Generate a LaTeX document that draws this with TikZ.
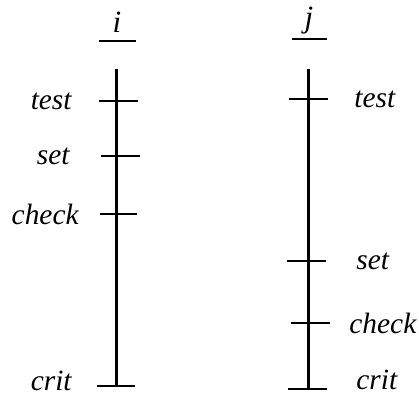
\documentclass[tikz,border=0pt]{standalone}
\usepackage{fontspec}
\setmainfont{Liberation Serif}
\newfontfamily\evtfont{Liberation Serif}
\usetikzlibrary{positioning}

\begin{document}
\begin{tikzpicture}[
  x=0.5pt, y=-0.5pt,
  proc/.style={line width=1.5pt},
  tickmark/.style={line width=1.3pt},
  evt/.style={inner sep=0pt, font=\evtfont\fontsize{14.7}{17}\selectfont\itshape},
  hdr/.style={inner sep=0pt, font=\evtfont\fontsize{15.5}{17}\selectfont\itshape}
]
\useasboundingbox (0,0) rectangle (419,394);
% process i
\node[hdr, anchor=base] (hi) at (117,33) {i};
\coordinate (itop) at (116,69);
\coordinate (ibot) at (116,386);
\draw[tickmark] (hi.base) ++(-18,8) -- ++(37,0);
\draw[proc] (itop) -- (ibot);
\coordinate (itest) at (116,101);
\coordinate (iset) at (116,156);
\coordinate (icheck) at (116,214);
\draw[tickmark] (itest) +(-17,0) -- +(22,0);
\draw[tickmark] (iset) +(-15,0) -- +(24,0);
\draw[tickmark] (icheck) +(-16,0) -- +(21,0);
\draw[tickmark] (ibot) +(-19,0) -- +(19,0);
\node[evt, anchor=east] (litest) at (72,101) {test};
\node[evt, anchor=east] (liset) at (70,156) {set};
\node[evt, anchor=east] (licheck) at (79,214) {check};
\node[evt, anchor=east] (licrit) at (72,381) {crit};
% process j
\node[hdr, anchor=base] (hj) at (309,28) {j};
\coordinate (jtop) at (308,69);
\coordinate (jbot) at (308,389);
\draw[tickmark] (hj.base) ++(-17,11) -- ++(35,0);
\draw[proc] (jtop) -- (jbot);
\coordinate (jtest) at (308,99);
\coordinate (jset) at (308,261);
\coordinate (jcheck) at (308,323);
\draw[tickmark] (jtest) +(-19,0) -- +(20,0);
\draw[tickmark] (jset) +(-21,0) -- +(18,0);
\draw[tickmark] (jcheck) +(-17,0) -- +(22,0);
\draw[tickmark] (jbot) +(-20,0) -- +(19,0);
\node[evt, anchor=west] (ljtest) at (354,99) {test};
\node[evt, anchor=west] (ljset) at (356,261) {set};
\node[evt, anchor=west] (ljcheck) at (349,323) {check};
\node[evt, anchor=west] (ljcrit) at (356,380) {crit};
\end{tikzpicture}
\end{document}
